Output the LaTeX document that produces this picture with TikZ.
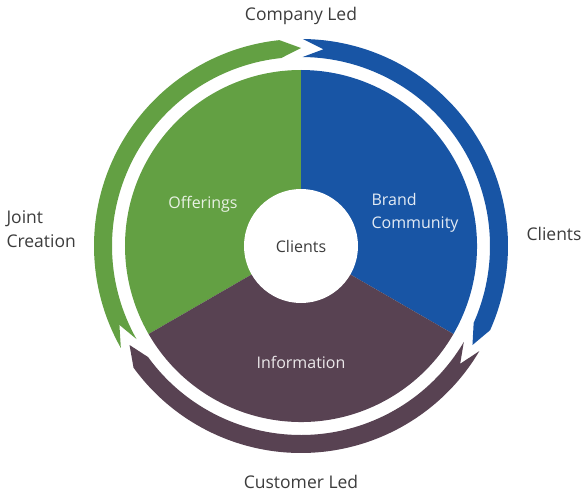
\documentclass[tikz,border=0pt]{standalone}
\usepackage{fontspec}
\setmainfont{Open Sans}
\usetikzlibrary{calc}

\definecolor{leafgreen}{HTML}{63A043}
\definecolor{brandblue}{HTML}{1855A5}
\definecolor{plum}{HTML}{584252}
\definecolor{labelgray}{HTML}{3C3C3C}

% ring arrow: colour, tail angle, tip angle (runs clockwise)
\newcommand{\ringarrow}[3]{%
  \fill[#1] (#2:207) arc[start angle=#2, end angle=#3+6, radius=207]
    -- (#3:198) -- (#3+6:189) arc[start angle=#3+6, end angle=#2, radius=189]
    -- (#2-6:198) -- cycle;}

\begin{document}
\begin{tikzpicture}[x=1pt,y=1pt,
    outer/.style={text=labelgray, font=\fontsize{17.5}{24.5}\selectfont},
    inner/.style={font=\fontsize{16}{23}\selectfont}]
        % centre of the wheel at (0,0), 1pt = 1px of the reference
        \useasboundingbox (-301,-249) rectangle (282,246);

        \coordinate (O) at (0,0);

        % three sectors, 120 degrees each
        \fill[leafgreen] (O) -- (90:176) arc[start angle=90, end angle=210, radius=176] -- cycle;
        \fill[brandblue] (O) -- (-30:176) arc[start angle=-30, end angle=90, radius=176] -- cycle;
        \fill[plum] (O) -- (210:176) arc[start angle=210, end angle=330, radius=176] -- cycle;
        \fill[white] (O) circle[radius=57];

        % outer ring of arrows
        \ringarrow{leafgreen}{209.5}{90}
        \ringarrow{brandblue}{89.5}{-30}
        \ringarrow{plum}{-30.5}{-150}

        % labels
        \node[inner, text=labelgray] (hub) at (O) {Clients};
        \node[inner, text=leafgreen!15] (offerings) at (-98,42) {Offerings};
        \node[inner, text=brandblue!12, anchor=west, align=left] (brand) at (67,33) {Brand\\Community};
        \node[inner, text=plum!12] (info) at (0,-116) {Information};

        \node[outer] (companyled) at (0,230) {Company Led};
        \node[outer] (customerled) at (0,-236) {Customer Led};
        \node[outer, anchor=west, align=left] (joint) at (-298,17) {Joint\\Creation};
        \node[outer, anchor=west] (clients) at (222,12) {Clients};
    \end{tikzpicture}
\end{document}
